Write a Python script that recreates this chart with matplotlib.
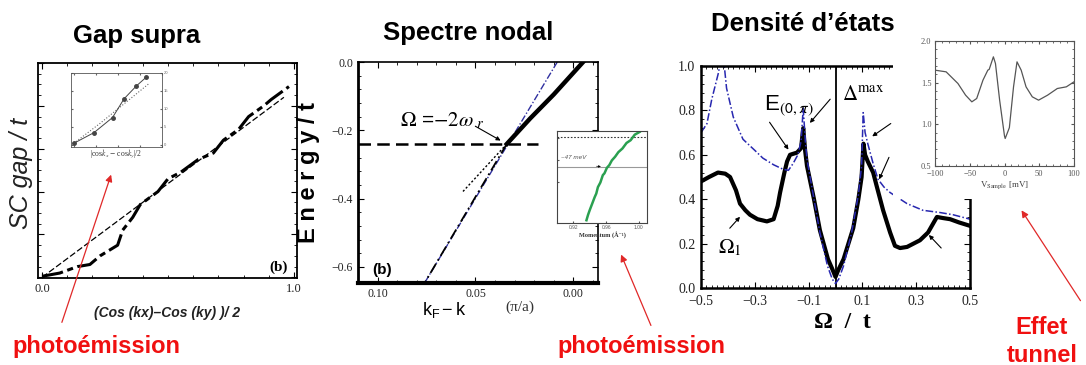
import matplotlib.pyplot as plt
import numpy as np
from matplotlib.patches import Rectangle, FancyArrowPatch
from matplotlib.ticker import MultipleLocator

plt.rcParams['font.family'] = 'Liberation Sans'
plt.rcParams['mathtext.fontset'] = 'stix'

W, H = 1086, 365


def box(x0, y0, x1, y1):
    # pixel box (top-left origin) -> figure fraction rect
    return [x0 / W, 1 - y1 / H, (x1 - x0) / W, (y1 - y0) / H]


def fp(x, y):
    return (x / W, 1 - y / H)


# --- Gap supra ---
gap_x = [0.0, 0.07, 0.14, 0.19, 0.23, 0.30, 0.32, 0.36, 0.39, 0.46, 0.50,
         0.55, 0.62, 0.68, 0.72, 0.78, 0.82, 0.88, 0.91, 0.98]
gap_y = [0.005, 0.02, 0.05, 0.06, 0.10, 0.15, 0.22, 0.28, 0.34, 0.40, 0.46,
         0.49, 0.55, 0.58, 0.64, 0.69, 0.75, 0.80, 0.83, 0.89]
lin_x = [0.0, 0.96]
lin_y = [0.0, 0.84]
ins1_x = [0.0, 0.23, 0.44, 0.57, 0.71, 0.82]
ins1_y = [0.02, 0.17, 0.38, 0.64, 0.82, 0.94]
ins1_fit_x = [0.0, 0.3, 0.55, 0.85]
ins1_fit_y = [0.02, 0.30, 0.55, 0.85]

# --- Spectre nodal ---
kink_k = [-0.005, 0.010, 0.022, 0.034]
kink_e = [0.0, -0.095, -0.165, -0.24]
low_k = [0.034, 0.076]
low_e = [-0.24, -0.647]
bare_k = [0.0082, 0.076]
bare_e = [0.0, -0.647]
ext_k = [0.034, 0.057]
ext_e = [-0.24, -0.383]
omega_k = [0.11, 0.018]
omega_e = [-0.24, -0.24]
arpes_k = [0.936, 0.938, 0.940, 0.943, 0.946, 0.948, 0.950, 0.953, 0.956,
           0.958, 0.961, 0.964, 0.967, 0.971, 0.975, 0.980, 0.985, 0.990,
           0.995, 1.001]
arpes_e = [0.03, 0.09, 0.14, 0.21, 0.28, 0.32, 0.39, 0.44, 0.52, 0.54, 0.60,
           0.63, 0.68, 0.72, 0.77, 0.81, 0.87, 0.90, 0.96, 0.99]

# --- Densite d'etats ---
bcs_w = [-0.5, -0.478, -0.46, -0.435, -0.42, -0.405, -0.38, -0.344, -0.30,
         -0.27, -0.23, -0.195, -0.175, -0.158, -0.14, -0.128, -0.12, -0.112,
         -0.106, -0.08, -0.058, -0.03, -0.012, 0.0, 0.012, 0.03, 0.06, 0.085,
         0.097, 0.103, 0.11, 0.12, 0.14, 0.158, 0.18, 0.203, 0.266, 0.325,
         0.388, 0.437, 0.5]
bcs_n = [0.70, 0.74, 0.85, 0.97, 1.08, 0.90, 0.77, 0.67, 0.62, 0.585, 0.555,
         0.535, 0.53, 0.56, 0.60, 0.66, 0.81, 0.66, 0.58, 0.40, 0.25, 0.10,
         0.04, 0.02, 0.04, 0.10, 0.25, 0.42, 0.55, 0.79, 0.70, 0.65, 0.56,
         0.49, 0.455, 0.43, 0.38, 0.35, 0.34, 0.33, 0.31]
dos_w = [-0.5, -0.47, -0.437, -0.41, -0.392, -0.37, -0.355, -0.335, -0.318,
         -0.29, -0.255, -0.23, -0.215, -0.206, -0.19, -0.18, -0.169, -0.143,
         -0.128, -0.12, -0.113, -0.106, -0.08, -0.058, -0.028, -0.01, 0.0,
         0.01, 0.03, 0.066, 0.085, 0.097, 0.104, 0.11, 0.12, 0.14, 0.154,
         0.177, 0.203, 0.221, 0.24, 0.266, 0.29, 0.314, 0.344, 0.377, 0.40,
         0.426, 0.46, 0.5]
dos_n = [0.48, 0.50, 0.52, 0.515, 0.50, 0.44, 0.38, 0.35, 0.33, 0.31, 0.30,
         0.31, 0.37, 0.43, 0.52, 0.57, 0.60, 0.61, 0.63, 0.72, 0.62, 0.55,
         0.40, 0.26, 0.13, 0.08, 0.05, 0.08, 0.13, 0.27, 0.40, 0.50, 0.65,
         0.60, 0.57, 0.52, 0.455, 0.35, 0.25, 0.19, 0.18, 0.185, 0.20, 0.215,
         0.25, 0.32, 0.315, 0.31, 0.295, 0.28]
stm_v = [-100, -84, -67, -56, -47, -40, -31, -24, -22, -16, -13, -7, 0, 1, 7,
         13, 18, 24, 31, 40, 49, 62, 76, 89, 100]
stm_g = [1.65, 1.63, 1.49, 1.35, 1.27, 1.31, 1.53, 1.65, 1.66, 1.81, 1.73,
         1.29, 0.86, 0.83, 0.96, 1.45, 1.75, 1.65, 1.45, 1.33, 1.29, 1.35,
         1.43, 1.45, 1.51]

RED = '#f01010'
SERIF = 'Liberation Serif'

fig = plt.figure(figsize=(10.86, 3.65), dpi=100)


def ticks_in(ax, size=8, major=4, minor=2, xpad=3.5, ypad=3.5):
    ax.tick_params(which='both', direction='in', top=True, right=True,
                   labelsize=size, colors='black', labelcolor='#222')
    ax.tick_params(which='major', length=major)
    ax.tick_params(which='minor', length=minor)
    ax.tick_params(axis='x', pad=xpad)
    ax.tick_params(axis='y', pad=ypad)
    for lab in ax.get_xticklabels() + ax.get_yticklabels():
        lab.set_family(SERIF)


# ---------------- panel 1 ----------------
ax1 = fig.add_axes(box(38, 63, 297, 278))
ax1.plot(lin_x, lin_y, color='black', lw=0.9, ls=(0, (5, 2)))
ax1.plot(gap_x, gap_y, color='black', lw=2.2, ls=(0, (7, 1.5, 2, 1.5)))
ax1.set_xlim(-0.016, 1.012)
ax1.set_ylim(-0.003, 1.0)
ax1.set_xticks([0, 1])
ax1.set_xticklabels(['0.0', '1.0'])
ax1.xaxis.set_minor_locator(MultipleLocator(0.1))
ax1.yaxis.set_major_locator(MultipleLocator(0.2))
ax1.yaxis.set_minor_locator(MultipleLocator(0.05))
ticks_in(ax1, size=9)
ax1.tick_params(labelleft=False)
for s in ax1.spines.values():
    s.set_linewidth(1.3)
ax1.text(0.93, 0.05, '(b)', transform=ax1.transAxes, family=SERIF,
         fontweight='bold', fontsize=11, ha='center', va='center')

ai1 = fig.add_axes(box(71, 73, 162, 147))
ai1.plot(ins1_fit_x, ins1_fit_y, color='#666', lw=0.8, ls=':')
ai1.plot(ins1_x, ins1_y, color='#444', lw=0.7, marker='o', ms=2.5)
ai1.set_xlim(-0.03, 1.0)
ai1.set_ylim(-0.03, 1.0)
ai1.set_xticks([0, 0.25, 0.5, 0.75, 1.0])
ai1.set_yticks([0, 0.25, 0.5, 0.75, 1.0])
ai1.set_yticklabels(['0', '5', '10', '15', '20'])
ai1.tick_params(direction='in', length=1.5, labelsize=3, labelbottom=False,
                labelleft=False, labelright=True, right=True, top=True,
                colors='#666', pad=1)
for s in ai1.spines.values():
    s.set_linewidth(0.6)
    s.set_color('#555')
ai1.set_xlabel(r'|cos$k_x$ $-$ cos$k_y$|/2', fontsize=5.5, labelpad=0.5,
               color='#333', family=SERIF)

# ---------------- panel 2 ----------------
ax2 = fig.add_axes(box(358, 62, 598, 283))
ax2.plot(bare_k, bare_e, color='#3030a0', lw=1.0, ls=(0, (5, 1.5, 1, 1.5)))
ax2.plot(low_k, low_e, color='black', lw=1.3, ls=(0, (6, 2, 1, 2)))
ax2.plot(ext_k, ext_e, color='black', lw=1.0, ls=(0, (1.5, 1.5)))
ax2.plot(kink_k, kink_e, color='black', lw=3.2)
ax2.plot(omega_k, omega_e, color='black', lw=1.8, ls=(0, (5, 2.5)))
ax2.set_xlim(0.110, -0.0126)
ax2.set_ylim(-0.647, 0.0)
ax2.set_xticks([0.10, 0.05, 0.0])
ax2.set_xticklabels(['0.10', '0.05', '0.00'])
ax2.set_yticks([0.0, -0.2, -0.4, -0.6])
ax2.set_yticklabels(['0.0', '\u22120.2', '\u22120.4', '\u22120.6'])
ax2.xaxis.set_minor_locator(MultipleLocator(0.01))
ax2.yaxis.set_minor_locator(MultipleLocator(0.04))
ticks_in(ax2, size=8.5)
ax2.spines['left'].set_linewidth(2.0)
ax2.spines['bottom'].set_linewidth(3.0)
ax2.spines['top'].set_linewidth(1.2)
ax2.spines['right'].set_linewidth(1.2)
ax2.text(0.10, 0.06, '(b)', transform=ax2.transAxes, fontweight='bold',
         fontsize=11, ha='center', va='center')
ax2.text(0.0887, -0.187, r'$\Omega$ =$-2\omega_{\ r}$', fontsize=15,
         ha='left', va='baseline')
ax2.annotate('', xy=(0.0359, -0.234), xytext=(0.0513, -0.184),
             arrowprops=dict(arrowstyle='-|>', color='black', lw=0.8,
                             mutation_scale=6))

ai2 = fig.add_axes(box(557, 131, 647, 223))
ai2.set_zorder(3)
ai2.set_facecolor('white')
ai2.axhline(0.94, color='#333', lw=0.8, ls=(0, (1.5, 1.5)))
ai2.axhline(0.61, color='#999', lw=0.8)
ai2.plot(arpes_k, arpes_e, color='#2aa050', lw=1.8)
ai2.text(0.905, 0.70, '~47 meV', fontsize=4.5, style='italic', color='#555')
ai2.annotate('', xy=(0.957, 0.61), xytext=(0.945, 0.62),
             arrowprops=dict(arrowstyle='-|>', color='black', lw=0.5,
                             mutation_scale=3))
ai2.set_xlim(0.90, 1.01)
ai2.set_ylim(0.0, 1.0)
ai2.set_xticks([0.92, 0.96, 1.00])
ai2.set_xticklabels(['0.92', '0.96', '1.00'])
ai2.set_yticks([0.45, 0.68, 0.92])
ai2.tick_params(direction='in', length=1.5, labelsize=3.5, labelleft=False,
                colors='#555', pad=1.5)
for s in ai2.spines.values():
    s.set_linewidth(0.8)
    s.set_color('#444')
ai2.set_xlabel('Momentum (\u00c5\u207b\u00b9)', fontsize=4.5, labelpad=1,
               color='#333', family=[SERIF, 'DejaVu Serif'],
               fontweight='bold')

# ---------------- panel 3 ----------------
ax3 = fig.add_axes(box(701, 66, 970, 288))
ax3.axvline(0.0, color='black', lw=1.3)
ax3.plot(dos_w, dos_n, color='black', lw=3.0)
ax3.plot(bcs_w, bcs_n, color='#2828b0', lw=1.1, ls=(0, (5, 1.5, 1, 1.5)))
ax3.set_xlim(-0.5, 0.5)
ax3.set_ylim(0.0, 1.0)
ax3.set_xticks([-0.5, -0.3, -0.1, 0.1, 0.3, 0.5])
ax3.set_xticklabels(['\u22120.5', '\u22120.3', '\u22120.1', '0.1', '0.3',
                     '0.5'])
ax3.set_yticks([0.0, 0.2, 0.4, 0.6, 0.8, 1.0])
ax3.xaxis.set_minor_locator(MultipleLocator(0.02))
ax3.yaxis.set_minor_locator(MultipleLocator(0.04))
ticks_in(ax3, size=10, xpad=5, ypad=4)
for s in ax3.spines.values():
    s.set_linewidth(1.8)

arr = dict(arrowstyle='-|>', color='black', lw=0.8, mutation_scale=6)
ax3.text(-0.265, 0.80, r'E$_{\mathsf{(0,\pi)}}$', fontsize=16,
         ha='left', va='baseline')
ax3.annotate('', xy=(-0.169, 0.613), xytext=(-0.251, 0.757), arrowprops=arr)
ax3.text(0.024, 0.847, r'$\Delta^{\rm max}$', fontsize=15, ha='left',
         va='baseline')
ax3.annotate('', xy=(-0.102, 0.734), xytext=(-0.013, 0.86), arrowprops=arr)
ax3.annotate('', xy=(0.128, 0.676), xytext=(0.214, 0.748), arrowprops=arr)
ax3.annotate('', xy=(0.158, 0.478), xytext=(0.203, 0.60), arrowprops=arr)
ax3.annotate('', xy=(0.34, 0.248), xytext=(0.40, 0.171), arrowprops=arr)
ax3.text(-0.437, 0.158, r'$\Omega_1$', fontsize=15, ha='left',
         va='baseline')
ax3.annotate('', xy=(-0.348, 0.33), xytext=(-0.40, 0.26), arrowprops=arr)

# white area of the tunnelling inset covering the corner
fig.add_artist(Rectangle(fp(893, 199), (1086 - 893) / W, 199 / H,
                         transform=fig.transFigure, facecolor='white',
                         edgecolor='none', zorder=1))

ai3 = fig.add_axes(box(935, 41, 1074, 166))
ai3.set_zorder(2)
ai3.plot(stm_v, stm_g, color='#555', lw=0.9)
ai3.set_xlim(-100, 100)
ai3.set_ylim(0.5, 2.0)
ai3.set_xticks([-100, -50, 0, 50, 100])
ai3.set_yticks([0.5, 1.0, 1.5, 2.0])
ai3.xaxis.set_minor_locator(MultipleLocator(10))
ai3.yaxis.set_minor_locator(MultipleLocator(0.1))
ai3.tick_params(which='both', direction='in', top=True, right=True,
                labelsize=6, colors='#555')
ai3.tick_params(axis='x', pad=3)
ai3.tick_params(axis='y', pad=2.5)
ai3.tick_params(which='major', length=2.5)
ai3.tick_params(which='minor', length=1.2)
for lab in ai3.get_xticklabels() + ai3.get_yticklabels():
    lab.set_family(SERIF)
for s in ai3.spines.values():
    s.set_linewidth(0.8)
    s.set_color('#555')
ai3.set_xlabel(r'V$_{\rm Sample}$ [mV]', fontsize=6.5, labelpad=1,
               color='#444', family=SERIF)

# ---------------- texts ----------------
fig.text(*fp(137, 43), 'Gap supra', fontsize=18.5, fontweight='bold',
         ha='center', va='baseline')
fig.text(*fp(468, 40), 'Spectre nodal', fontsize=18.5, fontweight='bold',
         ha='center', va='baseline')
fig.text(*fp(803, 31), 'Densit\u00e9 d\u2019\u00e9tats', fontsize=18.5,
         fontweight='bold', ha='center', va='baseline', zorder=5)

fig.text(*fp(21, 173), 'SC gap / t', fontsize=18, style='italic',
         rotation=90, ha='center', va='center', color='#222')
fig.text(*fp(308, 172), 'E n e r g y / t', fontsize=17, fontweight='bold',
         rotation=90, ha='center', va='center')
fig.text(*fp(167, 313), '(Cos (kx)\u2013Cos (ky) )/ 2', fontsize=10,
         style='italic', fontweight='bold', ha='center', va='center',
         color='#222')
fig.text(*fp(444, 310), r'$\mathregular{k_F - k}$', fontsize=13,
         ha='center', va='center')
fig.text(*fp(520, 307), '(\u03c0/a)', fontsize=11, family=SERIF,
         ha='center', va='center', color='#333')
fig.text(*fp(842, 328), '\u03a9  /  t', fontsize=17, family=SERIF,
         fontweight='bold', ha='center', va='baseline')

fig.text(*fp(96, 347), 'photo\u00e9mission', fontsize=17, fontweight='bold',
         color=RED, ha='center', va='center')
fig.text(*fp(641, 347), 'photo\u00e9mission', fontsize=17,
         fontweight='bold', color=RED, ha='center', va='center')
fig.text(*fp(1042, 328), 'Effet', fontsize=17, fontweight='bold', color=RED,
         ha='center', va='center')
fig.text(*fp(1042, 355), 'tunnel', fontsize=17, fontweight='bold',
         color=RED, ha='center', va='center')

for tail, head in [((61, 325), (112, 172)), ((652, 328), (620, 252)),
                   ((1082, 303), (1020, 208))]:
    fig.add_artist(FancyArrowPatch(fp(*tail), fp(*head),
                                   transform=fig.transFigure,
                                   arrowstyle='-|>', mutation_scale=10,
                                   color='#e02828', lw=0.9, zorder=6))

fig.savefig('out.png', dpi=100)
